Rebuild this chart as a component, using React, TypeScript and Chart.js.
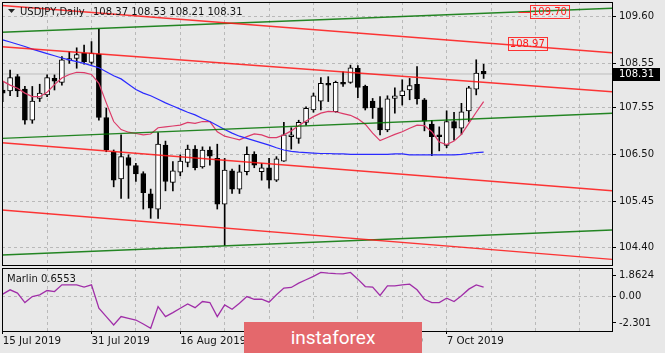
import { useEffect, useRef } from 'react';
import { Chart, registerables } from 'chart.js';

Chart.register(...registerables);

// ---------- data ----------
const symbolTitle = 'USDJPY,Daily';
const dateLabels = ['15 Jul 2019', '31 Jul 2019', '16 Aug 2019', '3 Sep 2019', '19 Sep 2019', '7 Oct 2019'];
const dateLabelIdx = [0, 12, 24, 36, 48, 60];
const gridIdx = [0, 6, 12, 18, 24, 30, 36, 42, 48, 54, 60, 66, 72, 78];

const opens = [107.95,107.93,108.25,107.97,107.27,107.76,107.84,108.21,108.12,108.62,
108.66,108.78,108.57,108.76,107.33,106.56,105.95,106.43,106.25,106.07,
105.61,105.27,106.71,105.87,106.10,106.32,106.62,106.22,106.60,106.41,
105.38,106.13,105.72,106.11,106.50,106.11,106.20,105.92,106.35,106.90,
106.86,107.22,107.50,107.70,108.10,107.46,108.12,108.12,108.44,108.03,
107.70,107.55,107.05,107.76,107.82,107.95,108.08,107.73,107.18,106.94,
106.70,107.24,107.09,107.48,107.97,108.37];
const highs = [108.14,108.40,108.30,108.03,108.03,108.08,108.29,108.29,108.70,108.81,
108.90,108.96,109.04,109.32,107.54,106.60,106.94,106.49,106.30,106.11,
105.72,106.99,106.80,106.34,106.49,106.71,106.70,106.67,106.67,106.73,
106.41,106.17,106.26,106.67,106.56,106.30,106.41,106.45,107.22,107.10,
107.27,107.57,107.88,108.23,108.25,108.15,108.36,108.51,108.50,108.06,
107.76,107.80,107.82,108.00,108.18,108.21,108.48,107.76,107.27,107.12,
107.48,107.45,107.65,108.03,108.63,108.53];
const lows = [107.69,107.82,107.80,107.18,107.20,107.69,107.80,107.95,108.06,108.55,
108.44,108.53,108.53,107.27,106.56,105.77,105.51,105.51,105.89,105.27,
105.06,105.06,105.68,105.68,106.02,106.22,106.15,106.19,106.26,105.27,
104.45,105.62,105.62,106.04,106.20,105.92,105.74,105.89,106.34,106.62,
106.75,107.16,107.45,107.50,107.69,107.45,108.03,108.10,107.78,107.50,
107.31,106.94,107.01,107.43,107.61,107.73,107.63,107.03,106.47,106.58,
106.65,106.82,106.95,107.24,107.84,108.21];
const closes = [107.88,108.23,107.93,107.27,107.70,107.88,108.23,108.15,108.63,108.66,
108.75,108.59,108.78,107.33,106.60,105.92,106.45,106.25,106.06,105.64,
105.29,106.73,105.89,106.13,106.35,106.62,106.20,106.60,106.46,105.38,
106.15,105.72,106.11,106.50,106.26,106.20,105.92,106.40,106.94,106.94,
107.22,107.54,107.82,108.10,108.06,108.12,108.08,108.45,108.01,107.54,
107.55,107.05,107.75,107.82,107.93,108.05,107.75,107.25,106.90,106.90,
107.24,107.09,107.46,108.00,108.33,108.31];

const maBlue = [109.08,109.03,108.98,108.93,108.87,108.82,108.77,108.72,108.67,108.63,
108.59,108.55,108.50,108.45,108.36,108.27,108.20,108.08,107.96,107.88,
107.82,107.74,107.66,107.59,107.52,107.45,107.39,107.31,107.24,107.15,
107.06,106.98,106.91,106.86,106.81,106.76,106.71,106.65,106.60,106.57,
106.55,106.54,106.53,106.52,106.52,106.51,106.51,106.50,106.50,106.50,
106.50,106.50,106.50,106.51,106.51,106.49,106.49,106.49,106.49,106.49,
106.49,106.49,106.50,106.52,106.54,106.55];
const maPink = [108.15,108.06,107.99,107.88,107.80,107.80,107.90,108.07,108.22,108.30,
108.35,108.34,108.30,108.10,107.66,107.24,107.06,107.00,106.97,106.94,
106.96,107.10,107.12,107.14,107.16,107.22,107.20,107.24,107.24,107.01,
106.91,106.87,106.83,106.90,106.96,106.94,106.88,106.88,106.94,107.03,
107.15,107.25,107.35,107.43,107.47,107.46,107.42,107.38,107.30,107.18,
106.98,106.81,106.88,106.95,107.01,107.09,107.16,107.15,107.01,106.78,
106.72,106.80,106.95,107.20,107.45,107.69];
const marlin = [0.24,0.62,0.33,-0.50,0.03,0.18,0.56,0.47,1.06,1.06,
1.06,0.86,1.06,-1.00,-1.74,-2.48,-1.74,-1.89,-2.04,-2.39,
-2.77,-0.86,-1.74,-1.39,-1.00,-0.62,-0.95,-0.41,-0.50,-1.74,
-0.71,-1.09,-0.56,0.03,-0.21,-0.21,-0.47,0.18,0.77,0.83,
1.21,1.51,1.80,2.15,2.09,2.05,2.03,2.15,1.56,0.91,
0.86,0.12,0.97,0.97,1.06,1.12,0.62,-0.21,-0.50,-0.50,
-0.12,-0.41,0.09,0.68,1.06,0.86];
const marlinName = 'Marlin';
const marlinLast = '0.6553';

const priceTicks = [109.6, 108.55, 107.55, 106.5, 105.45, 104.4];
const marlinTicks = [1.8624, 0, -2.301];
const marlinTickLabels = ['1.8624', '0.00', '-2.301'];

// channel lines: [price at left edge, price at right edge]
const channelRed = [[109.852, 108.79], [108.925, 107.912], [106.763, 105.683], [105.248, 104.138]];
const channelGreen = [[109.249, 109.789], [106.862, 107.425], [104.235, 104.798]];
const priceLabels = [
  { text: '109.70', x: 73.9, y: 109.695, lead: true },
  { text: '108.97', x: 70.9, y: 108.985, lead: false },
];

const X_MIN = -0.095, X_MAX = 82.35;
const Y_MIN = 103.988, Y_MAX = 109.931;
const M_MIN = -3.01, M_MAX = 2.544;

// ---------- style ----------
const BG = '#e8e8e8';
const GRID = '#b9b9b9';
const TXT = '#141414';
const FONT = "'DejaVu Sans', sans-serif";
const RED = 'rgba(255,20,20,0.85)';
const GREEN = 'rgba(0,115,0,0.85)';

Chart.defaults.font.family = FONT;

const n = closes.length;
const idx = closes.map((_, i) => i);

function edgeLine(p: number[], color: string) {
  return {
    type: 'line' as const,
    data: [{ x: X_MIN, y: p[0] }, { x: X_MAX, y: p[1] }],
    borderColor: color, borderWidth: 1.4, pointRadius: 0, order: 1,
  };
}

function noPad(s: any) {
  s.paddingTop = 0; s.paddingBottom = 0; s.paddingLeft = 0; s.paddingRight = 0;
}

const mainOverlay = {
  id: 'mainOverlay',
  afterDraw(chart: any) {
    const { ctx, chartArea: a, scales } = chart;
    ctx.save();
    ctx.strokeStyle = '#000';
    ctx.lineWidth = 1;
    ctx.strokeRect(Math.round(a.left) + 0.5, Math.round(a.top) + 0.5, Math.round(a.right - a.left), Math.round(a.bottom - a.top) - 1);
    ctx.fillStyle = '#222';
    ctx.beginPath();
    ctx.moveTo(8, 9); ctx.lineTo(15, 9); ctx.lineTo(11.5, 13); ctx.closePath(); ctx.fill();
    ctx.font = `10px ${FONT}`;
    ctx.textBaseline = 'middle';
    ctx.textAlign = 'left';
    ctx.fillStyle = TXT;
    ctx.fillText(symbolTitle, 20, 12);
    const last = n - 1;
    ctx.fillText([opens[last], highs[last], lows[last], closes[last]].map(v => v.toFixed(2)).join(' '), 93, 12);
    for (const l of priceLabels) {
      const px = scales.x.getPixelForValue(l.x);
      const py = scales.y.getPixelForValue(l.y);
      const w = ctx.measureText(l.text).width;
      const bx = Math.round(px - w / 2 - 2) + 0.5;
      const by = Math.round(py - 7) + 0.5;
      ctx.strokeStyle = 'rgba(255,30,30,0.9)';
      ctx.lineWidth = 1;
      if (l.lead) {
        ctx.beginPath(); ctx.moveTo(bx - 12, Math.round(py) + 0.5); ctx.lineTo(bx, Math.round(py) + 0.5); ctx.stroke();
      }
      ctx.strokeRect(bx, by, Math.round(w + 4), 13);
      ctx.fillStyle = '#ff1a1a';
      ctx.textAlign = 'center';
      ctx.fillText(l.text, px, py);
    }
    const cy = Math.round(scales.y.getPixelForValue(closes[last]));
    ctx.fillStyle = '#000';
    ctx.fillRect(613, cy - 6, 47, 13);
    ctx.fillStyle = '#fff';
    ctx.textAlign = 'left';
    ctx.fillText(closes[last].toFixed(2), 619, cy + 0.5);
    ctx.restore();
  },
};

const indOverlay = {
  id: 'indOverlay',
  afterDraw(chart: any) {
    const { ctx, chartArea: a } = chart;
    ctx.save();
    ctx.strokeStyle = '#000';
    ctx.lineWidth = 1;
    ctx.strokeRect(Math.round(a.left) + 0.5, Math.round(a.top) + 0.5, Math.round(a.right - a.left), Math.round(a.bottom - a.top));
    ctx.font = `10px ${FONT}`;
    ctx.fillStyle = TXT;
    ctx.textBaseline = 'middle';
    ctx.fillText(`${marlinName} ${marlinLast}`, 7, 12);
    ctx.restore();
  },
};

function mainConfig(): any {
  return {
    type: 'line',
    data: {
      datasets: [
        {
          type: 'line', data: [{ x: X_MIN, y: closes[n - 1] }, { x: X_MAX, y: closes[n - 1] }],
          borderColor: '#bdbdbd', borderWidth: 1, pointRadius: 0, order: 5,
        },
        {
          type: 'bar', data: idx.map(i => ({ x: i, y: [lows[i], highs[i]] })),
          backgroundColor: '#000', borderWidth: 0, barThickness: 1, grouped: false, order: 4,
        },
        {
          type: 'bar', data: idx.map(i => ({ x: i, y: [opens[i], closes[i]] })),
          backgroundColor: idx.map(i => (closes[i] >= opens[i] ? '#ffffff' : '#000000')),
          borderColor: '#000', borderWidth: 1, borderSkipped: false, barThickness: 5, grouped: false, order: 3,
        },
        ...channelRed.map(p => edgeLine(p, RED)),
        ...channelGreen.map(p => edgeLine(p, GREEN)),
        {
          type: 'line', data: idx.map(i => ({ x: i, y: maBlue[i] })),
          borderColor: '#2a2aff', borderWidth: 1.2, pointRadius: 0, order: 1,
        },
        {
          type: 'line', data: idx.map(i => ({ x: i, y: maPink[i] })),
          borderColor: '#dc3a68', borderWidth: 1.2, pointRadius: 0, order: 1,
        },
      ],
    },
    options: {
      responsive: false, animation: false, events: [],
      layout: { padding: { left: 2, top: 2, right: 0, bottom: 0 } },
      plugins: { legend: { display: false }, tooltip: { enabled: false } },
      scales: {
        x: {
          type: 'linear', min: X_MIN, max: X_MAX, offset: false,
          afterBuildTicks: (s: any) => { s.ticks = gridIdx.map(v => ({ value: v })); },
          afterFit: (s: any) => { s.height = 1; noPad(s); },
          ticks: { display: false },
          grid: { color: GRID, drawTicks: false, offset: false },
          border: { display: false, dash: [3, 3] },
        },
        y: {
          position: 'right', min: Y_MIN, max: Y_MAX,
          afterBuildTicks: (s: any) => { s.ticks = priceTicks.map(v => ({ value: v })); },
          afterFit: (s: any) => { s.width = 53; noPad(s); },
          ticks: { callback: (v: any) => Number(v).toFixed(2), color: TXT, font: { size: 10, family: FONT }, padding: 3, autoSkip: false },
          grid: { color: GRID, drawTicks: true, tickLength: 4, tickColor: '#000' },
          border: { display: false, dash: [3, 3] },
        },
      },
    },
    plugins: [mainOverlay],
  };
}

function indConfig(): any {
  return {
    type: 'line',
    data: {
      datasets: [
        {
          type: 'line', data: idx.map(i => ({ x: i, y: marlin[i] })),
          borderColor: '#a02ea8', borderWidth: 1.3, pointRadius: 0,
        },
      ],
    },
    options: {
      responsive: false, animation: false, events: [],
      layout: { padding: { left: 2, top: 1, right: 0, bottom: 0 } },
      plugins: { legend: { display: false }, tooltip: { enabled: false } },
      scales: {
        x: {
          type: 'linear', min: X_MIN, max: X_MAX, offset: false,
          afterBuildTicks: (s: any) => { s.ticks = gridIdx.map(v => ({ value: v })); },
          afterFit: (s: any) => { s.height = 22; noPad(s); },
          ticks: {
            autoSkip: false, maxRotation: 0, minRotation: 0, align: 'start', padding: 1,
            color: TXT, font: { size: 10.3, family: FONT },
            callback: (v: any) => { const k = dateLabelIdx.indexOf(Number(v)); return k >= 0 ? dateLabels[k] : ''; },
          },
          grid: {
            color: GRID, drawTicks: true, tickLength: 3, offset: false,
            tickColor: (c: any) => (c.tick && dateLabelIdx.includes(c.tick.value) ? '#000' : 'rgba(0,0,0,0)'),
          },
          border: { display: false, dash: [3, 3] },
        },
        y: {
          position: 'right', min: M_MIN, max: M_MAX,
          afterBuildTicks: (s: any) => { s.ticks = marlinTicks.map(v => ({ value: v })); },
          afterFit: (s: any) => { s.width = 53; noPad(s); },
          ticks: { callback: (_v: any, i: number) => marlinTickLabels[i], color: TXT, font: { size: 10, family: FONT }, padding: 3, autoSkip: false },
          grid: {
            color: (c: any) => (c.tick && c.tick.value === 0 ? GRID : 'rgba(0,0,0,0)'),
            drawTicks: true, tickLength: 4, tickColor: '#000',
          },
          border: { display: false, dash: [3, 3] },
        },
      },
    },
    plugins: [indOverlay],
  };
}

export default function App() {
  const mainRef = useRef<HTMLCanvasElement>(null);
  const indRef = useRef<HTMLCanvasElement>(null);
  useEffect(() => {
    document.body.style.margin = '0';
    const c1 = new Chart(mainRef.current as HTMLCanvasElement, mainConfig());
    const c2 = new Chart(indRef.current as HTMLCanvasElement, indConfig());
    return () => { c1.destroy(); c2.destroy(); };
  }, []);
  return (
    <div style={{ position: 'absolute', left: 0, top: 0, width: 665, height: 353, background: BG, overflow: 'hidden' }}>
      <canvas ref={mainRef} width={665} height={267} style={{ position: 'absolute', left: 0, top: 0 }} />
      <canvas ref={indRef} width={665} height={86} style={{ position: 'absolute', left: 0, top: 267 }} />
      <div style={{
        position: 'absolute', left: 244, top: 322, width: 178, height: 31, background: '#e4686c',
        color: '#fff', font: "19px Roboto, sans-serif", display: 'flex', alignItems: 'center', justifyContent: 'center',
      }}>instaforex</div>
    </div>
  );
}
